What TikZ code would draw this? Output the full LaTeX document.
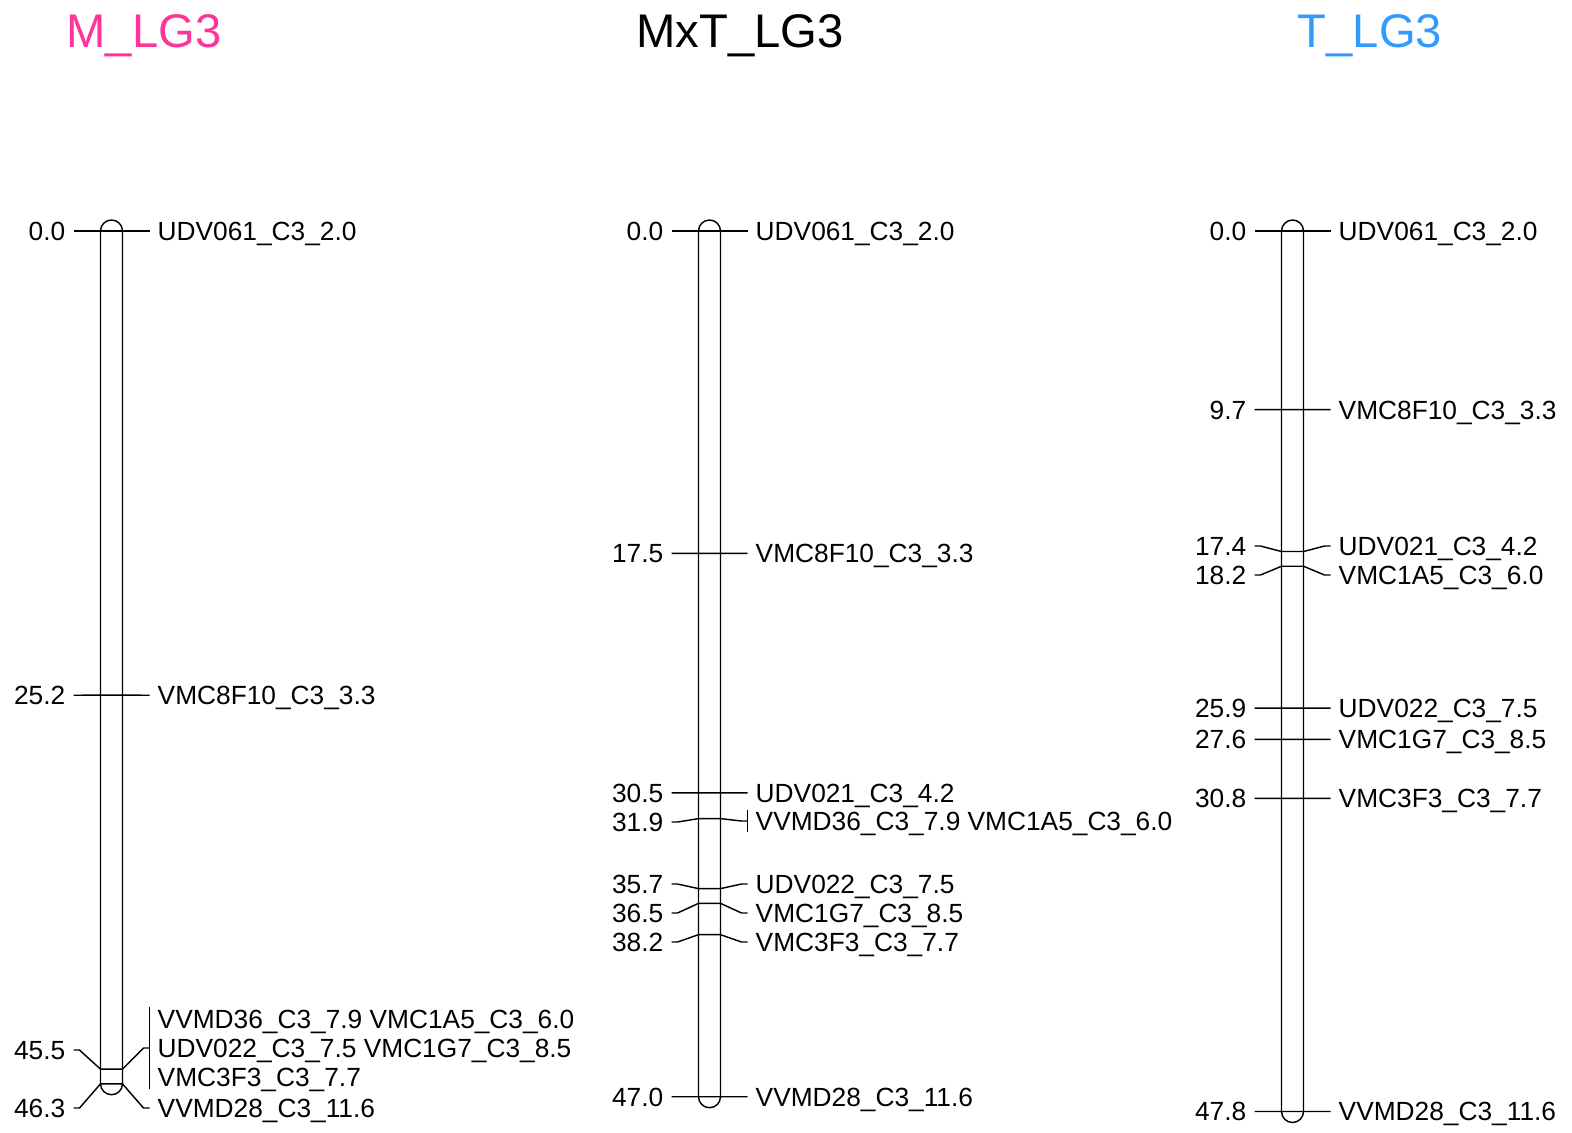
\documentclass[tikz,border=0pt]{standalone}
\usepackage{fontspec}
\setmainfont{Liberation Sans}
\usetikzlibrary{positioning,calc}
\definecolor{mpink}{RGB}{255,51,153}
\definecolor{tblue}{RGB}{51,153,255}
% chromosome bar: centre x, top y, bottom y
\newcommand{\chrbar}[3]{\draw (#1-11,#2) -- (#1-11,#3) arc[start angle=180,end angle=360,radius=5.5pt] -- (#1+11,#2) arc[start angle=0,end angle=180,radius=5.5pt] -- cycle;}
\begin{document}
\begin{tikzpicture}[x=0.5pt, y=-0.5pt, line width=0.72pt,
    ttl/.style={font=\fontsize{23.6}{28}\selectfont, anchor=base},
    lbl/.style={font=\fontsize{13.15}{15}\selectfont, inner ysep=0pt, inner xsep=3.75pt, text height=9.4pt, text depth=0pt},
    cmlbl/.style={lbl, anchor=east},
    mklbl/.style={lbl, anchor=west}]
    \useasboundingbox (0,0) rectangle (1572,1132);
    \node[ttl, text=mpink] (tM) at (144,47) {M\_LG3};
    \node[ttl] (tMxT) at (740,47) {MxT\_LG3};
    \node[ttl, text=tblue] (tT) at (1370,47) {T\_LG3};

    % M_LG3
    \def\cx{111.5}
    \chrbar{\cx}{231}{1083.7}
    \foreach \cm/\ly/\mk [count=\i] in {0.0/231/UDV061\_C3\_2.0, 25.2/695.2/VMC8F10\_C3\_3.3, 46.3/1108/VVMD28\_C3\_11.6}{
        \pgfmathsetmacro\ym{231+18.42*\cm}
        \node[cmlbl] (L-c\i) at (\cx-38,\ly) {\cm};
        \node[mklbl] (L-m\i) at (\cx+38,\ly) {\mk};
        \draw (L-c\i.east) -- ++(6,0) -- (\cx-11,\ym) -- (\cx+11,\ym) -- ([xshift=-3pt]L-m\i.west) -- (L-m\i.west);
    }
    \node[cmlbl] (L-c4) at (\cx-38,1050) {45.5};
    \node[mklbl] (L-g1) at (\cx+38,1019) {VVMD36\_C3\_7.9 VMC1A5\_C3\_6.0};
    \node[mklbl] (L-g2) at (\cx+38,1048) {UDV022\_C3\_7.5 VMC1G7\_C3\_8.5};
    \node[mklbl] (L-g3) at (\cx+38,1077) {VMC3F3\_C3\_7.7};
    \draw ([yshift=1pt]L-g1.north west) -- ([yshift=-1pt]L-g3.south west);
    \draw (L-c4.east) -- ++(6,0) -- (\cx-11,1069.1) -- (\cx+11,1069.1) -- ([xshift=-3pt]L-g2.west) -- (L-g2.west);

    % MxT_LG3
    \def\cx{709.5}
    \chrbar{\cx}{231}{1096.7}
    \foreach \cm/\ly/\mk [count=\i] in {0.0/231/UDV061\_C3\_2.0, 17.5/553.4/VMC8F10\_C3\_3.3, 30.5/792.8/UDV021\_C3\_4.2,
        35.7/884/UDV022\_C3\_7.5, 36.5/913/VMC1G7\_C3\_8.5, 38.2/942/VMC3F3\_C3\_7.7, 47.0/1096.7/VVMD28\_C3\_11.6}{
        \pgfmathsetmacro\ym{231+18.42*\cm}
        \node[cmlbl] (X-c\i) at (\cx-38,\ly) {\cm};
        \node[mklbl] (X-m\i) at (\cx+38,\ly) {\mk};
        \draw (X-c\i.east) -- ++(6,0) -- (\cx-11,\ym) -- (\cx+11,\ym) -- ([xshift=-3pt]X-m\i.west) -- (X-m\i.west);
    }
    \node[cmlbl] (X-c8) at (\cx-38,822) {31.9};
    \node[mklbl] (X-g1) at (\cx+38,821) {VVMD36\_C3\_7.9 VMC1A5\_C3\_6.0};
    \draw ([yshift=0.5pt]X-g1.north west) -- ([yshift=-0.5pt]X-g1.south west);
    \draw (X-c8.east) -- ++(6,0) -- (\cx-11,818.6) -- (\cx+11,818.6) -- ([xshift=-3pt]X-g1.west) -- (X-g1.west);

    % T_LG3
    \def\cx{1292.5}
    \chrbar{\cx}{231}{1111.5}
    \foreach \cm/\ly/\mk [count=\i] in {0.0/231/UDV061\_C3\_2.0, 9.7/409.7/VMC8F10\_C3\_3.3, 17.4/546/UDV021\_C3\_4.2,
        18.2/575/VMC1A5\_C3\_6.0, 25.9/708.1/UDV022\_C3\_7.5, 27.6/739.4/VMC1G7\_C3\_8.5, 30.8/798.3/VMC3F3\_C3\_7.7,
        47.8/1111.5/VVMD28\_C3\_11.6}{
        \pgfmathsetmacro\ym{231+18.42*\cm}
        \node[cmlbl] (T-c\i) at (\cx-38,\ly) {\cm};
        \node[mklbl] (T-m\i) at (\cx+38,\ly) {\mk};
        \draw (T-c\i.east) -- ++(6,0) -- (\cx-11,\ym) -- (\cx+11,\ym) -- ([xshift=-3pt]T-m\i.west) -- (T-m\i.west);
    }
\end{tikzpicture}
\end{document}
